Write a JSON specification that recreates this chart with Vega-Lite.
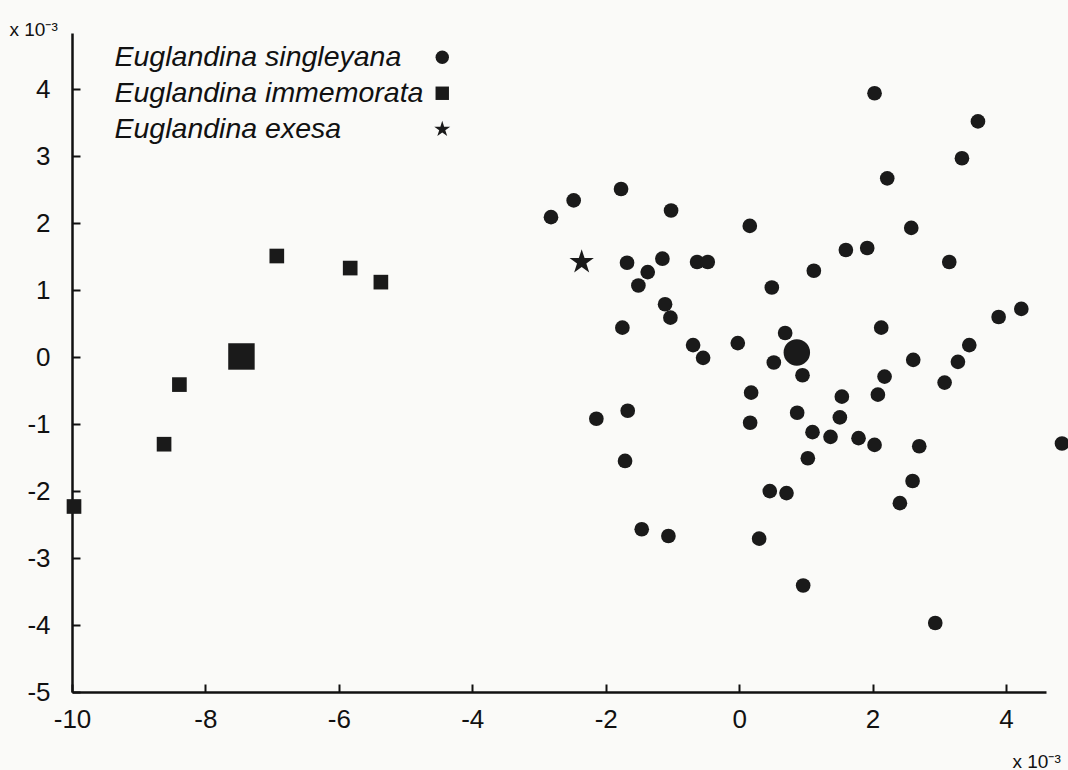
{
  "$schema": "https://vega.github.io/schema/vega-lite/v6.json",
  "width": 974,
  "height": 659,
  "autosize": {"type": "none"},
  "padding": {"left": 72, "top": 33, "right": 22, "bottom": 78},
  "background": "#fafaf8",
  "config": {"view": {"stroke": null}, "font": "Liberation Sans"},
  "data": {
    "values": [
      {"species": "Euglandina singleyana", "x": -2.82, "y": 2.09, "n": 1},
      {"species": "Euglandina singleyana", "x": -2.48, "y": 2.34, "n": 1},
      {"species": "Euglandina singleyana", "x": -1.77, "y": 2.51, "n": 1},
      {"species": "Euglandina singleyana", "x": -1.02, "y": 2.19, "n": 1},
      {"species": "Euglandina singleyana", "x": 0.16, "y": 1.96, "n": 1},
      {"species": "Euglandina singleyana", "x": 2.03, "y": 3.94, "n": 1},
      {"species": "Euglandina singleyana", "x": 3.58, "y": 3.52, "n": 1},
      {"species": "Euglandina singleyana", "x": 3.34, "y": 2.97, "n": 1},
      {"species": "Euglandina singleyana", "x": 2.22, "y": 2.67, "n": 1},
      {"species": "Euglandina singleyana", "x": 2.58, "y": 1.93, "n": 1},
      {"species": "Euglandina singleyana", "x": 1.6, "y": 1.6, "n": 1},
      {"species": "Euglandina singleyana", "x": 1.92, "y": 1.63, "n": 1},
      {"species": "Euglandina singleyana", "x": 1.12, "y": 1.29, "n": 1},
      {"species": "Euglandina singleyana", "x": 3.15, "y": 1.42, "n": 1},
      {"species": "Euglandina singleyana", "x": -1.68, "y": 1.41, "n": 1},
      {"species": "Euglandina singleyana", "x": -1.15, "y": 1.47, "n": 1},
      {"species": "Euglandina singleyana", "x": -1.37, "y": 1.27, "n": 1},
      {"species": "Euglandina singleyana", "x": -1.51, "y": 1.07, "n": 1},
      {"species": "Euglandina singleyana", "x": -0.63, "y": 1.42, "n": 1},
      {"species": "Euglandina singleyana", "x": -0.47, "y": 1.42, "n": 1},
      {"species": "Euglandina singleyana", "x": 0.49, "y": 1.04, "n": 1},
      {"species": "Euglandina singleyana", "x": -1.11, "y": 0.79, "n": 1},
      {"species": "Euglandina singleyana", "x": -1.03, "y": 0.59, "n": 1},
      {"species": "Euglandina singleyana", "x": -1.75, "y": 0.44, "n": 1},
      {"species": "Euglandina singleyana", "x": 4.23, "y": 0.72, "n": 1},
      {"species": "Euglandina singleyana", "x": 3.89, "y": 0.6, "n": 1},
      {"species": "Euglandina singleyana", "x": 2.13, "y": 0.44, "n": 1},
      {"species": "Euglandina singleyana", "x": -0.69, "y": 0.18, "n": 1},
      {"species": "Euglandina singleyana", "x": -0.54, "y": -0.01, "n": 1},
      {"species": "Euglandina singleyana", "x": -0.02, "y": 0.21, "n": 1},
      {"species": "Euglandina singleyana", "x": 0.69, "y": 0.36, "n": 1},
      {"species": "Euglandina singleyana", "x": 0.865, "y": 0.07, "n": 2},
      {"species": "Euglandina singleyana", "x": 0.52, "y": -0.08, "n": 1},
      {"species": "Euglandina singleyana", "x": 0.95, "y": -0.27, "n": 1},
      {"species": "Euglandina singleyana", "x": 3.45, "y": 0.18, "n": 1},
      {"species": "Euglandina singleyana", "x": 2.61, "y": -0.04, "n": 1},
      {"species": "Euglandina singleyana", "x": 3.28, "y": -0.07, "n": 1},
      {"species": "Euglandina singleyana", "x": 3.08, "y": -0.38, "n": 1},
      {"species": "Euglandina singleyana", "x": 2.18, "y": -0.29, "n": 1},
      {"species": "Euglandina singleyana", "x": 2.08, "y": -0.56, "n": 1},
      {"species": "Euglandina singleyana", "x": 0.18, "y": -0.53, "n": 1},
      {"species": "Euglandina singleyana", "x": 1.54, "y": -0.59, "n": 1},
      {"species": "Euglandina singleyana", "x": 0.87, "y": -0.83, "n": 1},
      {"species": "Euglandina singleyana", "x": 0.165, "y": -0.98, "n": 1},
      {"species": "Euglandina singleyana", "x": 1.51, "y": -0.9, "n": 1},
      {"species": "Euglandina singleyana", "x": 1.1, "y": -1.12, "n": 1},
      {"species": "Euglandina singleyana", "x": 1.37, "y": -1.19, "n": 1},
      {"species": "Euglandina singleyana", "x": 1.79, "y": -1.21, "n": 1},
      {"species": "Euglandina singleyana", "x": 2.03, "y": -1.31, "n": 1},
      {"species": "Euglandina singleyana", "x": 2.7, "y": -1.33, "n": 1},
      {"species": "Euglandina singleyana", "x": 4.84, "y": -1.29, "n": 1},
      {"species": "Euglandina singleyana", "x": -1.67, "y": -0.8, "n": 1},
      {"species": "Euglandina singleyana", "x": -2.14, "y": -0.92, "n": 1},
      {"species": "Euglandina singleyana", "x": 1.03, "y": -1.51, "n": 1},
      {"species": "Euglandina singleyana", "x": -1.71, "y": -1.55, "n": 1},
      {"species": "Euglandina singleyana", "x": 0.46, "y": -2.0, "n": 1},
      {"species": "Euglandina singleyana", "x": 0.71, "y": -2.03, "n": 1},
      {"species": "Euglandina singleyana", "x": 2.6, "y": -1.85, "n": 1},
      {"species": "Euglandina singleyana", "x": 2.41, "y": -2.18, "n": 1},
      {"species": "Euglandina singleyana", "x": -1.46, "y": -2.57, "n": 1},
      {"species": "Euglandina singleyana", "x": -1.06, "y": -2.67, "n": 1},
      {"species": "Euglandina singleyana", "x": 0.3, "y": -2.71, "n": 1},
      {"species": "Euglandina singleyana", "x": 0.96, "y": -3.41, "n": 1},
      {"species": "Euglandina singleyana", "x": 2.94, "y": -3.97, "n": 1},
      {"species": "Euglandina immemorata", "x": -6.93, "y": 1.51, "n": 1},
      {"species": "Euglandina immemorata", "x": -5.83, "y": 1.33, "n": 1},
      {"species": "Euglandina immemorata", "x": -5.37, "y": 1.12, "n": 1},
      {"species": "Euglandina immemorata", "x": -7.46, "y": 0.01, "n": 2},
      {"species": "Euglandina immemorata", "x": -8.39, "y": -0.41, "n": 1},
      {"species": "Euglandina immemorata", "x": -8.62, "y": -1.3, "n": 1},
      {"species": "Euglandina immemorata", "x": -9.97, "y": -2.23, "n": 1},
      {"species": "Euglandina exesa", "x": -2.36, "y": 1.42, "n": 1}
    ]
  },
  "mark": {"type": "point", "filled": true, "color": "#1a1a1a", "opacity": 1},
  "encoding": {
    "x": {
      "field": "x",
      "type": "quantitative",
      "scale": {"domain": [-10, 4.6], "nice": false, "zero": false},
      "axis": {
        "orient": "bottom",
        "values": [-10, -8, -6, -4, -2, 0, 2, 4],
        "grid": false,
        "domainColor": "#111111",
        "domainWidth": 2.5,
        "tickColor": "#111111",
        "tickWidth": 2,
        "tickSize": -8,
        "labelFontSize": 26,
        "labelFont": "Liberation Sans",
        "labelColor": "#111111",
        "labelPadding": 22,
        "labelFlush": false,
        "labelOverlap": false,
        "labelExpr": "'' + datum.value",
        "title": "x 10⁻³",
        "titleAngle": 0,
        "titleAlign": "left",
        "titleBaseline": "alphabetic",
        "titleX": 940,
        "titleY": 75,
        "titleFontSize": 19,
        "titleFontWeight": "normal",
        "titleFont": "Liberation Sans",
        "titleColor": "#111111"
      }
    },
    "y": {
      "field": "y",
      "type": "quantitative",
      "scale": {"domain": [-5, 4.84], "nice": false, "zero": false},
      "axis": {
        "orient": "left",
        "values": [-5, -4, -3, -2, -1, 0, 1, 2, 3, 4],
        "grid": false,
        "domainColor": "#111111",
        "domainWidth": 2.5,
        "tickColor": "#111111",
        "tickWidth": 2,
        "tickSize": -8,
        "labelFontSize": 26,
        "labelFont": "Liberation Sans",
        "labelColor": "#111111",
        "labelPadding": 30,
        "labelFlush": false,
        "labelOverlap": false,
        "labelExpr": "'' + datum.value",
        "title": "x 10⁻³",
        "titleAngle": 0,
        "titleAlign": "left",
        "titleBaseline": "alphabetic",
        "titleX": -63,
        "titleY": 2,
        "titleFontSize": 19,
        "titleFontWeight": "normal",
        "titleFont": "Liberation Sans",
        "titleColor": "#111111"
      }
    },
    "shape": {
      "field": "species",
      "type": "nominal",
      "scale": {
        "domain": ["Euglandina singleyana", "Euglandina immemorata", "Euglandina exesa"],
        "range": ["circle", "square", "M0,-1.25L0.2806,-0.386L1.189,-0.386L0.454,0.1475L0.735,1.011L0,0.4775L-0.735,1.011L-0.454,0.1475L-1.189,-0.386L-0.2806,-0.386Z"]
      },
      "legend": {
        "title": null,
        "orient": "none",
        "legendX": 356,
        "legendY": 10,
        "labelFontSize": 28.5,
        "labelFontStyle": "italic",
        "labelFont": "Liberation Sans",
        "labelColor": "#111111",
        "labelLimit": 600,
        "labelOffset": -342,
        "labelAlign": "left",
        "symbolSize": 180,
        "symbolFillColor": "#1a1a1a",
        "symbolStrokeWidth": 0,
        "rowPadding": 7
      }
    },
    "size": {
      "condition": {"test": "datum.species === 'Euglandina exesa'", "value": 420},
      "field": "n",
      "type": "quantitative",
      "scale": {"domain": [1, 2], "range": [215, 700]},
      "legend": null
    }
  }
}
